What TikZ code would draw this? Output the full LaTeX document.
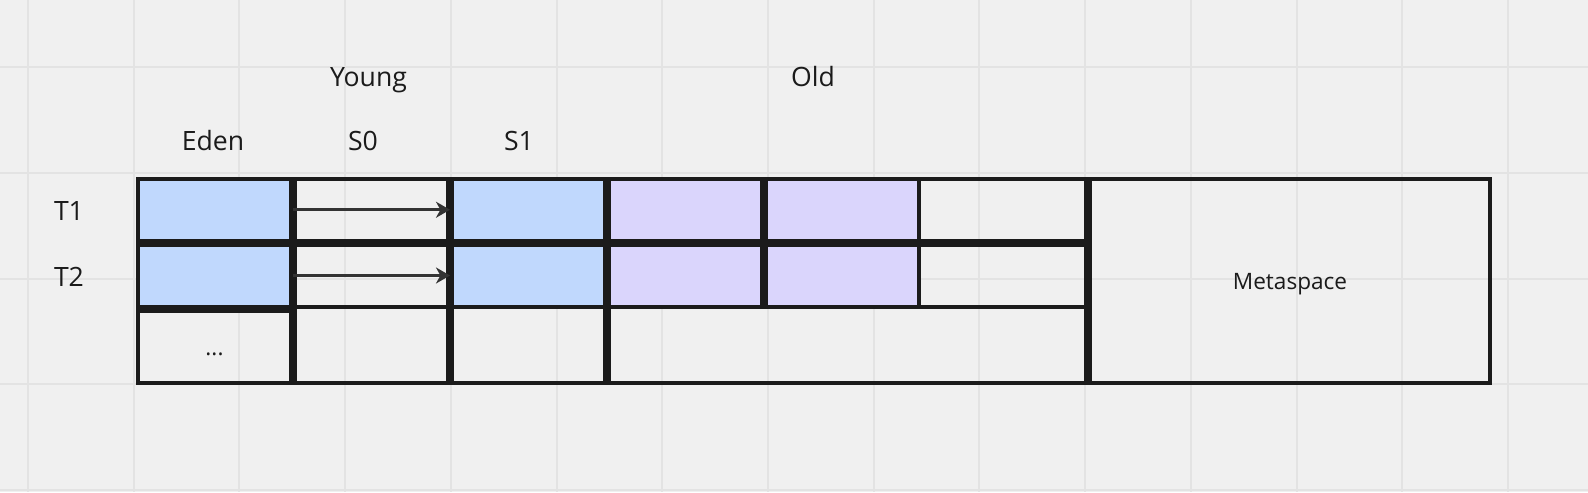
\documentclass[tikz,border=0pt]{standalone}
\usepackage{fontspec}
\setmainfont{Open Sans}
\usetikzlibrary{arrows.meta}
\definecolor{bgc}{HTML}{F0F0F0}
\definecolor{gridc}{HTML}{E3E3E3}
\definecolor{linec}{HTML}{1B1B1B}
\definecolor{arrowc}{HTML}{333333}
\definecolor{bluec}{HTML}{C0D8FD}
\definecolor{purplec}{HTML}{DAD5FC}
\tikzset{
  gridline/.style={draw=gridc, line width=1pt},
  cell/.style={draw=linec, line width=2pt, inner sep=0pt, rectangle},
  bluecell/.style={cell, fill=bluec},
  purplecell/.style={cell, fill=purplec},
  biglabel/.style={inner sep=0pt, anchor=base, text=linec, font=\fontsize{13.3}{16}\selectfont},
  smalllabel/.style={inner sep=0pt, anchor=base, text=linec, font=\fontsize{11.3}{14}\selectfont},
  moveto/.style={draw=arrowc, line width=1.55pt, -{Stealth[length=7pt,width=8pt,inset=2.2pt]}}
}
\begin{document}
\begin{tikzpicture}[x=0.5pt,y=-0.5pt]
\useasboundingbox (0,0) rectangle (1588,492);
\fill[bgc] (0,0) rectangle (1588,492);
% background grid
\foreach \i in {0,...,14} \draw[gridline] ({28+105.72*\i},0) -- ({28+105.72*\i},492);
\foreach \j in {0,...,4} \draw[gridline] (0,{67+105.75*\j}) -- (1588,{67+105.75*\j});

% filled cells, row T1
\node[bluecell, minimum width=76.5pt, minimum height=30.75pt] (edenT1) at (214.5,209.75) {};
\node[bluecell, minimum width=76.5pt, minimum height=30.75pt] (s1T1) at (528.5,209.75) {};
\node[purplecell, minimum width=76.5pt, minimum height=30.75pt] (oldAT1) at (685.5,209.75) {};
\node[purplecell, minimum width=76.5pt, minimum height=30.75pt] (oldBT1) at (842.5,209.75) {};
% filled cells, row T2
\node[bluecell, minimum width=76.5pt, minimum height=31pt] (edenT2) at (214.5,275.5) {};
\node[bluecell, minimum width=76.5pt, minimum height=31pt] (s1T2) at (528.5,275.5) {};
\node[purplecell, minimum width=76.5pt, minimum height=31pt] (oldAT2) at (685.5,275.5) {};
\node[purplecell, minimum width=76.5pt, minimum height=31pt] (oldBT2) at (842.5,275.5) {};

% rows
\node[cell, minimum width=474pt, minimum height=30.75pt] (rowT1) at (612,209.75) {};
\node[cell, minimum width=474pt, minimum height=31pt] (rowT2) at (612,275.5) {};
% columns
\node[cell, minimum width=76.5pt, minimum height=102pt] (eden) at (214.5,281) {};
\node[cell, minimum width=76.5pt, minimum height=102pt] (s0) at (371.5,281) {};
\node[cell, minimum width=76.5pt, minimum height=102pt] (s1) at (528.5,281) {};
\node[cell, minimum width=238.5pt, minimum height=102pt] (old) at (847.5,281) {};
\node[cell, minimum width=200pt, minimum height=102pt] (meta) at (1290,281) {};
% "..." cell
\node[cell, minimum width=76.5pt, minimum height=36.25pt] (edenMore) at (214.5,346.75) {};

% arrows
\draw[moveto] (edenT1.east) -- (s1T1.west);
\draw[moveto] (edenT2.east) -- (s1T2.west);

% labels
\node[biglabel] (young) at (368.5,86.7) {Young};
\node[biglabel] (oldlabel) at (813,86.7) {Old};
\node[biglabel] (edenlabel) at (213,150.7) {Eden};
\node[biglabel] (s0label) at (363,150.4) {S0};
\node[biglabel] (s1label) at (519,150.4) {S1};
\node[biglabel] (t1label) at (69,220.7) {T1};
\node[biglabel] (t2label) at (69,286.7) {T2};
\node[smalllabel] (metalabel) at (1290,289.3) {Metaspace};
\node[smalllabel] (morelabel) at (214.5,355.7) {...};
\end{tikzpicture}
\end{document}
